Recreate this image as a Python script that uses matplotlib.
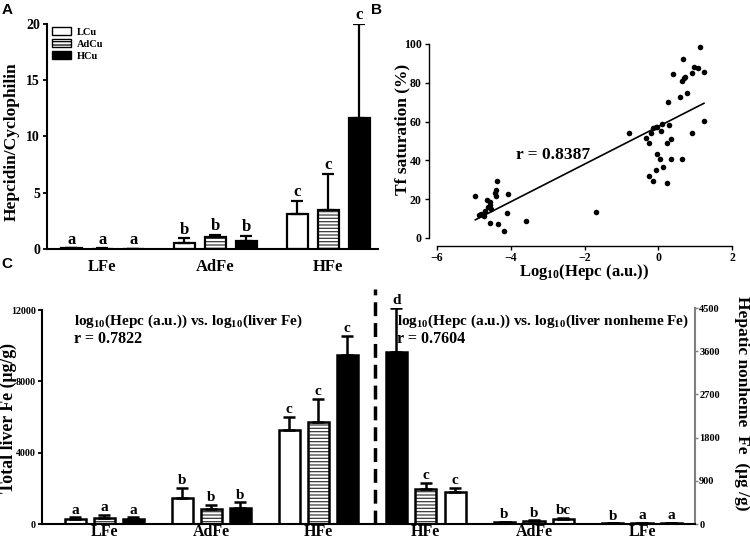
import numpy as np
import matplotlib
matplotlib.use('Agg')
import matplotlib.pyplot as plt
from matplotlib.patches import Patch

plt.rcParams['font.family'] = ['Liberation Serif', 'DejaVu Serif']
plt.rcParams['font.weight'] = 'bold'
plt.rcParams['mathtext.fontset'] = 'custom'
plt.rcParams['mathtext.rm'] = 'Liberation Serif:bold'
plt.rcParams['mathtext.bf'] = 'Liberation Serif:bold'
plt.rcParams['mathtext.it'] = 'Liberation Serif:bold'
plt.rcParams['hatch.linewidth'] = 0.9

# ---------------- data ----------------
fe_groups = ['LFe', 'AdFe', 'HFe']
cu_series = ['LCu', 'AdCu', 'HCu']

# Panel A: hepcidin / cyclophilin (groups LFe, AdFe, HFe)
hepA_LCu = [0.05, 0.55, 3.1]
hepA_LCu_err = [0.02, 0.40, 1.15]
hepA_AdCu = [0.03, 1.05, 3.5]
hepA_AdCu_err = [0.02, 0.20, 3.15]
hepA_HCu = [0.02, 0.75, 11.6]
hepA_HCu_err = [0.01, 0.40, 8.4]
hepA_letters_LCu = ['a', 'b', 'c']
hepA_letters_AdCu = ['a', 'b', 'c']
hepA_letters_HCu = ['a', 'b', 'c']

# Panel B: scatter log10(Hepc) vs Tf saturation
logHepc = [-4.96, -4.37, -4.39, -4.44, -4.41, -4.08, -4.64, -4.55, -4.57, -4.61,
           -4.53, -4.71, -4.80, -4.86, -4.73, -4.10, -4.57, -4.34, -4.19, -3.58,
           -1.70,
           -0.80, -0.34, -0.24, -0.21, -0.14, -0.07, -0.03, 0.08, 0.10, 0.28,
           0.35, 0.24, -0.03, 0.06, 0.35, 0.64, 0.13, -0.05, -0.24, -0.14,
           0.24, 0.26, 0.91, 1.24, 0.59, 0.79, 0.40, 0.64, 0.70, 0.73,
           0.67, 0.91, 0.97, 1.07, 1.14, 1.24]
tf_sat = [21.6, 29.5, 24.7, 23.4, 21.6, 22.5, 19.6, 18.6, 17.0, 15.8,
          15.1, 13.7, 12.4, 12.0, 11.3, 12.7, 7.9, 7.2, 3.8, 8.8,
          13.2,
          54.3, 51.4, 49.1, 54.3, 56.5, 57.4, 57.1, 55.3, 58.6, 58.2,
          51.0, 48.8, 43.3, 40.6, 40.6, 40.6, 36.4, 35.1, 32.1, 29.5,
          28.4, 70.0, 54.3, 60.3, 72.8, 74.6, 84.7, 81.1, 82.3, 83.2,
          92.3, 84.9, 88.3, 87.6, 98.3, 85.7]
r_B = 'r = 0.8387'

# Panel C left: total liver Fe (groups LFe, AdFe, HFe)
liverFe_LCu = [280, 1440, 5270]
liverFe_LCu_err = [90, 580, 750]
liverFe_AdCu = [350, 840, 5700]
liverFe_AdCu_err = [150, 230, 1310]
liverFe_HCu = [300, 880, 9500]
liverFe_HCu_err = [70, 335, 1050]
liverFe_letters = ['a', 'b', 'c']
r_C1 = 'r = 0.7822'

# Panel C right: hepatic nonheme Fe (groups HFe, AdFe, LFe; bars HCu, AdCu, LCu)
fe_groups_rev = ['HFe', 'AdFe', 'LFe']
nonheme_HCu = [3580, 40, 12]
nonheme_HCu_err = [930, 10, 4]
nonheme_AdCu = [730, 60, 15]
nonheme_AdCu_err = [125, 15, 4]
nonheme_LCu = [665, 110, 15]
nonheme_LCu_err = [85, 25, 4]
nonheme_letters_HCu = ['d', 'b', 'b']
nonheme_letters_AdCu = ['c', 'b', 'a']
nonheme_letters_LCu = ['c', 'bc', 'a']
r_C2 = 'r = 0.7604'

# ---------------- helpers ----------------
def draw_bar(ax, x, vals, errs, style, width, lw, letters, lfs):
    if style == 'white':
        ax.bar(x, vals, width, color='white', edgecolor='black', linewidth=lw, zorder=2)
    elif style == 'hatch':
        ax.bar(x, vals, width, color='white', edgecolor='#3a3a3a', hatch='-----',
               linewidth=0, zorder=2)
        ax.bar(x, vals, width, fill=False, edgecolor='black', linewidth=lw, zorder=3)
    else:
        ax.bar(x, vals, width, color='black', edgecolor='black', linewidth=lw, zorder=2)
    ax.errorbar(x, vals, yerr=[np.zeros(len(vals)), errs], fmt='none', ecolor='black',
                elinewidth=lw, capsize=4, capthick=lw, zorder=4)
    tops = np.array(vals) + np.array(errs)
    for xi, ti, le in zip(x, tops, letters):
        ax.annotate(le, (xi, ti), xytext=(0, 0.5), textcoords='offset points',
                    ha='center', va='bottom', fontsize=lfs, fontweight='bold',
                    annotation_clip=False)

W, H = 750, 539
fig = plt.figure(figsize=(7.5, 5.39), dpi=100)

def rect(l, t, r, b):
    return [l / W, 1 - b / H, (r - l) / W, (b - t) / H]

# ---------------- Panel A ----------------
axA = fig.add_axes(rect(47, 24, 378, 249))
gx = np.arange(3)
off = 0.274
bw = 0.186
draw_bar(axA, gx - off, hepA_LCu, hepA_LCu_err, 'white', bw, 1.6, hepA_letters_LCu, 12)
draw_bar(axA, gx, hepA_AdCu, hepA_AdCu_err, 'hatch', bw, 1.6, hepA_letters_AdCu, 12)
draw_bar(axA, gx + off, hepA_HCu, hepA_HCu_err, 'black', bw, 1.6, hepA_letters_HCu, 12)
axA.set_xlim(-0.49, 2.44)
axA.set_ylim(0, 20)
axA.set_yticks([0, 5, 10, 15, 20])
axA.set_xticks(gx)
axA.set_xticklabels(fe_groups, fontsize=12, fontweight='bold')
axA.tick_params(axis='x', length=0, pad=7)
axA.tick_params(axis='y', labelsize=10, length=3, width=1.3, pad=2)
for s in ['top', 'right']:
    axA.spines[s].set_visible(False)
for s in ['left', 'bottom']:
    axA.spines[s].set_linewidth(1.5)
axA.set_ylabel('Hepcidin/Cyclophilin', fontsize=12.5, fontweight='bold')
axA.yaxis.label.set_va('center')
axA.yaxis.set_label_coords(-0.106, 0.476)
handles = [Patch(facecolor='white', edgecolor='black', linewidth=1.0),
           Patch(facecolor='white', edgecolor='black', hatch='-----', linewidth=1.0),
           Patch(facecolor='black', edgecolor='black', linewidth=1.0)]
axA.legend(handles, cu_series, loc='upper left', bbox_to_anchor=(0.015, 0.985),
           frameon=False, fontsize=7.5, handlelength=1.8, handleheight=0.75,
           labelspacing=0.25, handletextpad=0.6, borderpad=0, borderaxespad=0)

# ---------------- Panel B ----------------
axB = fig.add_axes(rect(437, 44, 732, 238))
axB.scatter(logHepc, tf_sat, s=16, color='black', zorder=3, linewidths=0)
xb = np.array(logHepc)
yb = np.array(tf_sat)
k, c0 = np.polyfit(xb, yb, 1)
xl = np.array([xb.min(), xb.max()])
axB.plot(xl, k * xl + c0, color='black', linewidth=1.2)
axB.set_xlim(-6, 2)
axB.set_ylim(0, 100)
axB.set_xticks([-6, -4, -2, 0, 2])
axB.set_yticks([0, 20, 40, 60, 80, 100])
for s in ['top', 'right']:
    axB.spines[s].set_visible(False)
for s in ['left', 'bottom']:
    axB.spines[s].set_position(('outward', 6))
    axB.spines[s].set_linewidth(1.0)
axB.tick_params(labelsize=8.5, length=3, width=1.0, pad=2)
axB.tick_params(axis='x', pad=1)
axB.set_xlabel(r'Log$_{10}$(Hepc (a.u.))', fontsize=12, fontweight='bold')
axB.xaxis.label.set_va('center')
axB.xaxis.set_label_coords(0.5, -0.175)
axB.set_ylabel('Tf saturation (%)', fontsize=12.5, fontweight='bold')
axB.yaxis.label.set_va('center')
axB.yaxis.set_label_coords(-0.119, 0.56)
axB.text(-3.85, 43, r_B, fontsize=12.5, fontweight='bold', va='center', ha='left')

# ---------------- Panel C left ----------------
axC = fig.add_axes(rect(42, 310, 375, 524))
gx = np.arange(3)
offC = 0.271
bwC = 0.196
draw_bar(axC, gx - offC, liverFe_LCu, liverFe_LCu_err, 'white', bwC, 1.8, liverFe_letters, 11)
draw_bar(axC, gx, liverFe_AdCu, liverFe_AdCu_err, 'hatch', bwC, 1.8, liverFe_letters, 11)
draw_bar(axC, gx + offC, liverFe_HCu, liverFe_HCu_err, 'black', bwC, 1.8, liverFe_letters, 11)
axC.set_xlim(-0.58, 2.53)
axC.set_ylim(0, 12000)
axC.set_yticks([0, 4000, 8000, 12000])
axC.set_xticks(gx)
axC.set_xticklabels(fe_groups, fontsize=11.5, fontweight='bold')
axC.tick_params(axis='x', length=0, pad=0)
axC.tick_params(axis='y', labelsize=7.2, length=3, width=1.3, pad=1.5)
for s in ['top', 'right']:
    axC.spines[s].set_visible(False)
for s in ['left', 'bottom']:
    axC.spines[s].set_linewidth(1.5)
axC.set_ylabel('Total liver Fe (μg/g)', fontsize=12.8, fontweight='bold')
axC.yaxis.label.set_va('center')
axC.yaxis.set_label_coords(-0.1, 0.495)
axC.text(0.096, 0.949, r'log$_{10}$(Hepc (a.u.)) vs. log$_{10}$(liver Fe)',
         transform=axC.transAxes, fontsize=11, fontweight='bold', va='center', ha='left')
axC.text(0.096, 0.864, r_C1, transform=axC.transAxes, fontsize=11.5,
         fontweight='bold', va='center', ha='left')
axC.plot([1.0, 1.0], [0, 1.1], transform=axC.transAxes, color='black',
         linewidth=2.5, linestyle=(0, (4, 2)), clip_on=False, zorder=10)

# ---------------- Panel C right ----------------
axD = fig.add_axes(rect(375, 308, 695, 524))
axD.patch.set_visible(False)
offD = 0.272
bwD = 0.196
draw_bar(axD, gx - offD, nonheme_HCu, nonheme_HCu_err, 'black', bwD, 1.8, nonheme_letters_HCu, 11)
draw_bar(axD, gx, nonheme_AdCu, nonheme_AdCu_err, 'hatch', bwD, 1.8, nonheme_letters_AdCu, 11)
draw_bar(axD, gx + offD, nonheme_LCu, nonheme_LCu_err, 'white', bwD, 1.8, nonheme_letters_LCu, 11)
axD.set_xlim(-0.47, 2.49)
axD.set_ylim(0, 4500)
axD.set_yticks([0, 900, 1800, 2700, 3600, 4500])
axD.set_xticks(gx)
axD.set_xticklabels(fe_groups_rev, fontsize=11.5, fontweight='bold')
axD.tick_params(axis='x', length=0, pad=0)
axD.yaxis.tick_right()
axD.yaxis.set_label_position('right')
axD.tick_params(axis='y', labelsize=7.5, length=2, width=1.0, color='#808080', pad=1)
for s in ['top', 'left']:
    axD.spines[s].set_visible(False)
axD.spines['bottom'].set_linewidth(1.5)
axD.spines['right'].set_linewidth(1.5)
axD.spines['right'].set_color('#808080')
axD.set_ylabel('Hepatic nonheme  Fe  (μg /g)', fontsize=12.5, fontweight='bold',
               rotation=-90)
axD.yaxis.label.set_va('center')
axD.yaxis.set_label_coords(1.148, 0.558)
axD.text(0.069, 0.94, r'log$_{10}$(Hepc (a.u.)) vs. log$_{10}$(liver nonheme Fe)',
         transform=axD.transAxes, fontsize=11, fontweight='bold', va='center', ha='left')
axD.text(0.069, 0.856, r_C2, transform=axD.transAxes, fontsize=11.5,
         fontweight='bold', va='center', ha='left')

# panel labels
for lab, x, y in [('A', 2, 3), ('B', 371, 3), ('C', 1, 257)]:
    fig.text(x / W, 1 - y / H, lab, fontsize=11, fontweight='bold',
             family='Liberation Sans', ha='left', va='top')

fig.savefig('out.png', dpi=100)
